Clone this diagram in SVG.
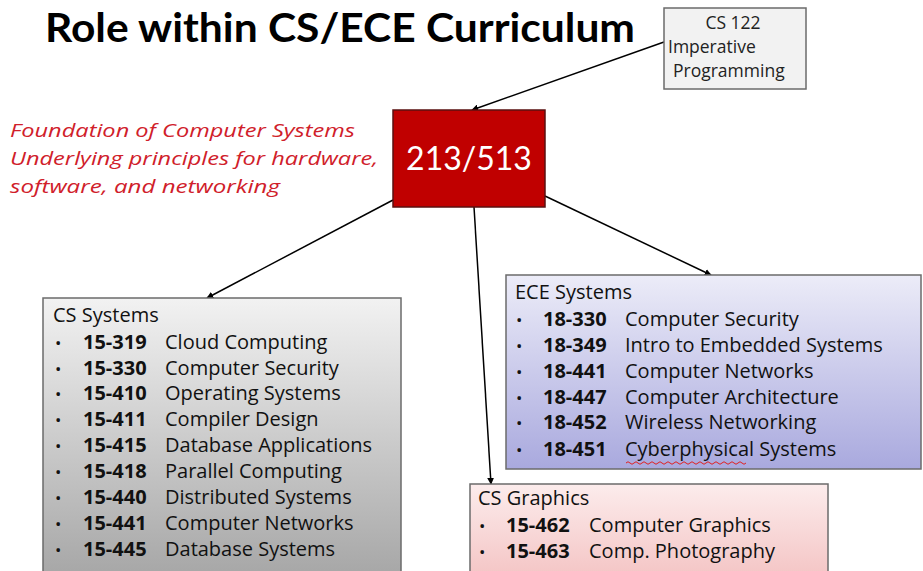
<svg xmlns="http://www.w3.org/2000/svg" width="923" height="571" viewBox="0 0 923 571">
  <defs>
    <linearGradient id="gGray" x1="0" y1="0" x2="0" y2="1">
      <stop offset="0" stop-color="#f2f2f2"/>
      <stop offset="1" stop-color="#a6a6a6"/>
    </linearGradient>
    <linearGradient id="gBlue" x1="0" y1="0" x2="0" y2="1">
      <stop offset="0" stop-color="#ececf8"/>
      <stop offset="1" stop-color="#a9a9de"/>
    </linearGradient>
    <linearGradient id="gPink" x1="0" y1="0" x2="0" y2="1">
      <stop offset="0" stop-color="#fcecec"/>
      <stop offset="1" stop-color="#f4c4c4"/>
    </linearGradient>
    <marker id="arrow" viewBox="0 0 10 10" refX="9" refY="5" markerWidth="7" markerHeight="7" orient="auto" markerUnits="userSpaceOnUse">
      <path d="M0,0 L10,5 L0,10 z" fill="#000"/>
    </marker>
  </defs>
  <style>
    text { font-family: "Open Sans", "Noto Sans", "Liberation Sans", sans-serif; fill: #111; }
    .title { font-family: Lato, "Open Sans", sans-serif; font-size: 40px; font-weight: bold; fill: #000; }
    .small { font-size: 17.5px; fill: #222; }
    .lead { font-size: 19px; font-style: italic; fill: #d0202a; }
    .head { font-size: 20px; }
    .item { font-size: 20px; }
    .dot { font-size: 17px; }
    .num { font-weight: bold; }
    .box { stroke: #6b6b6b; stroke-width: 1.5; }
    .edge { stroke: #000; stroke-width: 1.5; fill: none; marker-end: url(#arrow); }
  </style>

  <rect width="923" height="571" fill="#fff"/>

  <text class="title" x="45" y="42" textLength="590" lengthAdjust="spacingAndGlyphs">Role within CS/ECE Curriculum</text>

  <g id="connectors">
    <line class="edge" x1="664" y1="42" x2="472" y2="110"/>
    <line class="edge" x1="393" y1="200" x2="207" y2="298"/>
    <line class="edge" x1="474" y1="207" x2="491" y2="484"/>
    <line class="edge" x1="545" y1="196" x2="711" y2="275"/>
  </g>

  <g id="cs122">
    <rect class="box" x="664" y="8" width="142" height="81" fill="#f2f2f2"/>
    <text class="small" x="733" y="29" text-anchor="middle">CS 122</text>
    <text class="small" x="668" y="53">Imperative</text>
    <text class="small" x="673" y="77">Programming</text>
  </g>

  <g id="core">
    <rect x="393" y="110" width="152" height="97" fill="#c00000" stroke="#5a1010" stroke-width="1.5"/>
    <text x="469" y="170" text-anchor="middle" style="font-family: Lato, sans-serif; font-size:32px; fill:#fff;">213/513</text>
  </g>

  <g id="foundation">
    <text class="lead" x="10" y="137" textLength="345" lengthAdjust="spacingAndGlyphs">Foundation of Computer Systems</text>
    <text class="lead" x="10" y="165" textLength="368" lengthAdjust="spacingAndGlyphs">Underlying principles for hardware,</text>
    <text class="lead" x="10" y="193" textLength="270" lengthAdjust="spacingAndGlyphs">software, and networking</text>
  </g>

  <g id="cs-systems">
    <rect class="box" x="43" y="298" width="358" height="280" fill="url(#gGray)"/>
    <text class="head" x="53" y="322">CS Systems</text>
    <g class="item">
      <text class="dot" x="55" y="349">•</text><text class="num" x="83" y="349">15-319</text><text x="165" y="349">Cloud Computing</text>
      <text class="dot" x="55" y="375">•</text><text class="num" x="83" y="375">15-330</text><text x="165" y="375">Computer Security</text>
      <text class="dot" x="55" y="400">•</text><text class="num" x="83" y="400">15-410</text><text x="165" y="400">Operating Systems</text>
      <text class="dot" x="55" y="426">•</text><text class="num" x="83" y="426">15-411</text><text x="165" y="426">Compiler Design</text>
      <text class="dot" x="55" y="452">•</text><text class="num" x="83" y="452">15-415</text><text x="165" y="452">Database Applications</text>
      <text class="dot" x="55" y="478">•</text><text class="num" x="83" y="478">15-418</text><text x="165" y="478">Parallel Computing</text>
      <text class="dot" x="55" y="504">•</text><text class="num" x="83" y="504">15-440</text><text x="165" y="504">Distributed Systems</text>
      <text class="dot" x="55" y="530">•</text><text class="num" x="83" y="530">15-441</text><text x="165" y="530">Computer Networks</text>
      <text class="dot" x="55" y="556">•</text><text class="num" x="83" y="556">15-445</text><text x="165" y="556">Database Systems</text>
    </g>
  </g>

  <g id="ece-systems">
    <rect class="box" x="506" y="275" width="415" height="194" fill="url(#gBlue)" stroke="#8a8ab0"/>
    <text class="head" x="515" y="299">ECE Systems</text>
    <g class="item">
      <text class="dot" x="516" y="326">•</text><text class="num" x="543" y="326">18-330</text><text x="625" y="326">Computer Security</text>
      <text class="dot" x="516" y="352">•</text><text class="num" x="543" y="352">18-349</text><text x="625" y="352">Intro to Embedded Systems</text>
      <text class="dot" x="516" y="378">•</text><text class="num" x="543" y="378">18-441</text><text x="625" y="378">Computer Networks</text>
      <text class="dot" x="516" y="404">•</text><text class="num" x="543" y="404">18-447</text><text x="625" y="404">Computer Architecture</text>
      <text class="dot" x="516" y="429">•</text><text class="num" x="543" y="429">18-452</text><text x="625" y="429">Wireless Networking</text>
      <text class="dot" x="516" y="456">•</text><text class="num" x="543" y="456">18-451</text><text x="625" y="456">Cyberphysical Systems</text>
    </g>
    <path d="M626,463 q2,-2.5 4,0 t4,0 t4,0 t4,0 t4,0 t4,0 t4,0 t4,0 t4,0 t4,0 t4,0 t4,0 t4,0 t4,0 t4,0 t4,0 t4,0 t4,0 t4,0 t4,0 t4,0 t4,0 t4,0 t4,0 t4,0 t4,0 t4,0 t4,0 t4,0 t4,0" fill="none" stroke="#e02020" stroke-width="1"/>
  </g>

  <g id="cs-graphics">
    <rect class="box" x="470" y="484" width="358" height="95" fill="url(#gPink)" stroke="#d8a8a8"/>
    <text class="head" x="478" y="505">CS Graphics</text>
    <g class="item">
      <text class="dot" x="479" y="532">•</text><text class="num" x="506" y="532">15-462</text><text x="589" y="532">Computer Graphics</text>
      <text class="dot" x="479" y="558">•</text><text class="num" x="506" y="558">15-463</text><text x="589" y="558">Comp. Photography</text>
    </g>
  </g>
</svg>
